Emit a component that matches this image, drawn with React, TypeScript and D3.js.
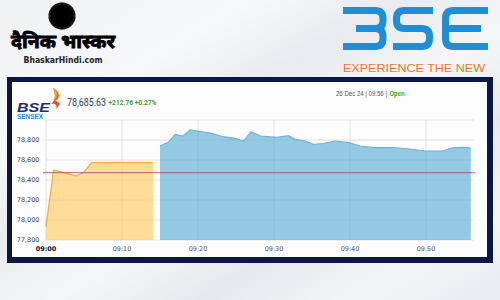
import React from "react";
import * as d3 from "d3";

// ---- data ----
const preOpenMinutes = [0, 1, 4, 5, 6, 14.1];
const preOpenValues = [77933, 78500, 78440, 78480, 78573, 78573];

const sessionMinutes = [15, 16.1, 17, 18, 19, 20.3, 21.8, 23.3, 24.9, 26, 27, 28.2, 30.4, 31.9, 32.8, 34.1, 35.2, 36.5, 38, 39.9, 41.3, 43.3, 45.7, 47.9, 49.9, 52.1, 53.6, 55.4, 55.9];
const sessionValues = [78740, 78777, 78857, 78840, 78900, 78883, 78867, 78833, 78817, 78790, 78883, 78840, 78827, 78843, 78807, 78790, 78757, 78765, 78790, 78773, 78740, 78723, 78723, 78710, 78690, 78690, 78723, 78727, 78717];

const prevClose = 78472.87;
const yTicks = [77800, 78000, 78200, 78400, 78600, 78800, 79000];
const xTickMinutes = [0, 10, 20, 30, 40, 50];
const xTickLabels = ["09:00", "09:10", "09:20", "09:30", "09:40", "09:50"];

const lastPrice = "78,685.63";
const change = "+212.76 +0.27%";

export default function App() {
  const W = 500, H = 300;
  const x = d3.scaleLinear().domain([0, 56.5]).range([46, 475.4]);
  const y = d3.scaleLinear().domain([77800, 79000]).range([240, 120]);

  const pre = preOpenMinutes.map((m, i) => [m, preOpenValues[i]] as [number, number]);
  const ses = sessionMinutes.map((m, i) => [m, sessionValues[i]] as [number, number]);
  const area = d3.area<[number, number]>().x(d => x(d[0])).y0(240).y1(d => y(d[1]));
  const line = d3.line<[number, number]>().x(d => x(d[0])).y(d => y(d[1]));

  const spikes = d3.range(0, 360, 4);
  const navy = "#0c1744";
  const blue = "#1e8fd5";
  const sw = 7;
  const t = 10.5, m = 28.5, b = 46.5, r = 8;
  const three = `M343,${t} H${383 - r} Q383,${t} 383,${t + r} V${m - r} Q383,${m} ${383 - r},${m} H356 M${383 - r},${m} Q383,${m} 383,${m + r} V${b - r} Q383,${b} ${383 - r},${b} H343`;
  const S = `M433,${t} H${396.5 + r} Q396.5,${t} 396.5,${t + r} V${m - r} Q396.5,${m} ${396.5 + r},${m} H${429.5 - r} Q429.5,${m} 429.5,${m + r} V${b - r} Q429.5,${b} ${429.5 - r},${b} H393`;
  const E = `M488,${t} H${445.5 + r} Q445.5,${t} 445.5,${t + r} V${b - r} Q445.5,${b} ${445.5 + r},${b} H488 M445.5,${m} H481`;

  return (
    <svg width={W} height={H} style={{ position: "absolute", left: 0, top: 0 }} xmlns="http://www.w3.org/2000/svg">
      <defs>
        <linearGradient id="bg" x1="0" y1="0" x2="1" y2="1">
          <stop offset="0" stopColor="#eef0f2" />
          <stop offset="0.25" stopColor="#f7f8f9" />
          <stop offset="0.4" stopColor="#e8eaed" />
          <stop offset="0.55" stopColor="#f5f6f7" />
          <stop offset="0.7" stopColor="#e6e8eb" />
          <stop offset="0.85" stopColor="#f3f4f6" />
          <stop offset="1" stopColor="#e9ebee" />
        </linearGradient>
      </defs>
      <rect x={0} y={0} width={W} height={H} fill="url(#bg)" />

      {/* Dainik Bhaskar logo */}
      <g>
        {spikes.map(a => {
          const rad = (a * Math.PI) / 180;
          return <line key={a} x1={62 + Math.cos(rad) * 9} y1={16 + Math.sin(rad) * 9} x2={62 + Math.cos(rad) * 13.5} y2={16 + Math.sin(rad) * 13.5} stroke="#000" strokeWidth={1.1} />;
        })}
        <circle cx={62} cy={16} r={10.5} fill="#000" />
        <text x={63} y={48} textAnchor="middle" fontFamily="'Noto Sans Devanagari','Lohit Devanagari','Noto Sans',sans-serif" fontWeight="bold" fontSize={19} fill="#000" stroke="#000" strokeWidth={0.9} textLength={104} lengthAdjust="spacingAndGlyphs">दैनिक भास्कर</text>
        <text x={63} y={63} textAnchor="middle" fontFamily="'DejaVu Sans Condensed','DejaVu Sans',sans-serif" fontWeight="bold" fontSize={8.5} fill="#222" textLength={79} lengthAdjust="spacingAndGlyphs">BhaskarHindi.com</text>
      </g>

      {/* BSE logo */}
      <g fill="none" stroke={blue} strokeWidth={sw}>
        <path d={three} />
        <path d={S} />
        <path d={E} />
      </g>
      <text x={343} y={71.5} fontFamily="'Liberation Sans',Arial,sans-serif" fontSize={10.5} fill="#e5782e" textLength={142} lengthAdjust="spacingAndGlyphs">EXPERIENCE THE NEW</text>

      {/* frame */}
      <rect x={7} y={77} width={486} height={186} fill={navy} />
      <rect x={12} y={82} width={475} height={175} fill="#fdfdfd" />

      {/* header inside */}
      <path d="M53,88 C60,92 61,98 55,101 C60,101 61,105 56,109 C58,104 54,103 51,104 C56,100 56,94 53,88 Z" fill="#e8502a" />
      <path d="M53,88 C58,92 59,97 54,100 C55,96 55,92 53,88 Z" fill="#f5a623" />
      <text x={17} y={111.5} fontFamily="'Liberation Sans',Arial,sans-serif" fontWeight="bold" fontStyle="italic" fontSize={13.5} fill="#1e2f6d" textLength={33} lengthAdjust="spacingAndGlyphs">BSE</text>
      <text x={17} y={119} fontFamily="'Liberation Sans',Arial,sans-serif" fontWeight="bold" fontSize={6.5} fill="#3b7fb8" textLength={26} lengthAdjust="spacingAndGlyphs">SENSEX</text>
      <text x={67} y={105.5} fontFamily="Roboto,'Liberation Sans',sans-serif" fontSize={10.5} fill="#2d3c55" textLength={39} lengthAdjust="spacingAndGlyphs">{lastPrice}</text>
      <text x={108.5} y={105} fontFamily="Roboto,'Liberation Sans',sans-serif" fontWeight="bold" fontSize={7} fill="#3c9a35" textLength={48} lengthAdjust="spacingAndGlyphs">{change}</text>
      <text x={336} y={95.5} fontFamily="'Liberation Sans',Arial,sans-serif" fontSize={6.3} fill="#555" textLength={51} lengthAdjust="spacingAndGlyphs">26 Dec 24 | 09:56 |</text>
      <text x={389.5} y={95.5} fontFamily="'Liberation Sans',Arial,sans-serif" fontSize={6.3} fontWeight="bold" fill="#2e9e2e" textLength={15} lengthAdjust="spacingAndGlyphs">Open</text>

      {/* grid */}
      <g stroke="#e9e9e9" strokeWidth={1}>
        {yTicks.map(v => <line key={v} x1={46} x2={474} y1={y(v)} y2={y(v)} />)}
        {xTickMinutes.map(mm => <line key={mm} x1={x(mm)} x2={x(mm)} y1={120} y2={240} />)}
      </g>

      {/* areas */}
      <path d={area(pre) || ""} fill="#fddb98" />
      <path d={line(pre) || ""} fill="none" stroke="#f4b23a" strokeWidth={1.3} />
      <path d={area(ses) || ""} fill="#93c9e3" />
      <path d={line(ses) || ""} fill="none" stroke="#73b3d6" strokeWidth={1.2} />

      <g stroke="#000" strokeOpacity={0.04} strokeWidth={1}>
        {xTickMinutes.map(mm => <line key={mm} x1={x(mm)} x2={x(mm)} y1={120} y2={240} />)}
        {yTicks.map(v => <line key={v} x1={46} x2={474} y1={y(v)} y2={y(v)} />)}
      </g>

      {/* previous close */}
      <line x1={43} x2={475} y1={y(prevClose)} y2={y(prevClose)} stroke="#a3465a" strokeWidth={1} strokeOpacity={0.85} />

      {/* axes labels */}
      <g fontFamily="'DejaVu Sans',sans-serif" fontSize={6.5} fill="#444">
        {yTicks.slice(0, 6).map(v => (
          <text key={v} x={39.5} y={y(v)} dy="0.35em" textAnchor="end">{d3.format(",")(v)}</text>
        ))}
        {xTickMinutes.map((mm, i) => (
          <text key={mm} x={x(mm)} y={250.5} textAnchor="middle" fontWeight={i === 0 ? "bold" : "normal"} fill={i === 0 ? "#111" : "#555"}>{xTickLabels[i]}</text>
        ))}
      </g>
    </svg>
  );
}
